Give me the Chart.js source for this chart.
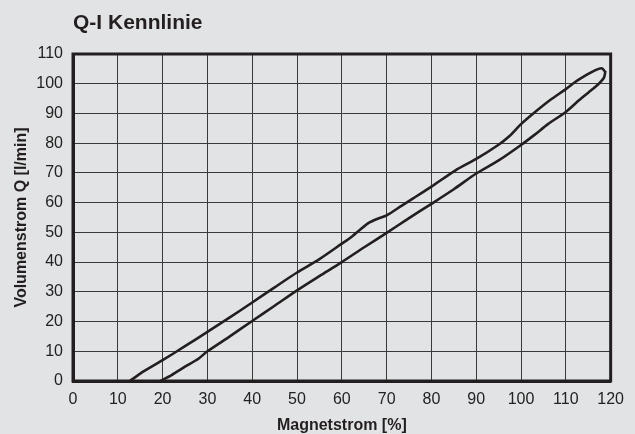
<!DOCTYPE html>
<html>
<head>
<meta charset="utf-8">
<script src="https://cdn.jsdelivr.net/npm/chart.js@4.4.0/dist/chart.umd.min.js"></script>
<style>
  html, body { margin: 0; padding: 0; background: #e2e3e4; }
  #wrap { width: 635px; height: 434px; }
</style>
</head>
<body>
<div id="wrap"><canvas id="kennlinie"></canvas></div>
<script>
// Kennlinie: steigender Strom (unterer Ast)
var stromAuf = [19.5, 22, 25, 28, 30, 35, 40, 45, 50, 55, 60, 65, 70, 75, 80, 85, 90, 95, 100, 103, 106, 110, 113, 115, 117, 118.5, 118.8];
var qAuf     = [0, 2, 4.8, 7.5, 10, 15, 20.2, 25.3, 30.5, 35.3, 40, 45, 49.8, 54.8, 59.6, 64.5, 69.8, 74.2, 79.4, 82.8, 86.4, 90.5, 94.5, 97, 99.5, 102, 104];
// fallender Strom (oberer Ast)
var stromAb = [118.8, 118, 116.5, 114.9, 112, 110, 106.5, 103, 100, 97.5, 94.9, 90, 85.3, 80, 76, 73.4, 70, 68, 66, 64, 62, 60, 55, 50, 45, 40, 35, 30, 25, 20, 15, 12.7];
var qAb     = [104, 105.2, 104.5, 103.2, 100.5, 98.2, 94.5, 90.3, 86.4, 82.5, 79.4, 74.7, 70.8, 65.4, 61.5, 59, 55.7, 54.6, 53.2, 50.8, 48.3, 46.2, 41, 36.5, 31.5, 26.4, 21.4, 16.5, 11.7, 7, 2.5, 0];

var xTicks = [0, 10, 20, 30, 40, 50, 60, 70, 80, 90, 100, 110, 120];
var yTicks = [0, 10, 20, 30, 40, 50, 60, 70, 80, 90, 100, 110];

function punkte(xs, ys){
    var liste = []
    for (var i = 0; i < xs.length; i++){
        liste.push({x: xs[i], y: ys[i]})
    }
    return liste
}

var schrift = '"Liberation Sans", Arial, Helvetica, sans-serif';
var linie = '#231f20';

// Rahmen rund um den Plotbereich
const rahmen = {
    id: 'rahmen',
    afterDatasetsDraw(chart){
        var a = chart.chartArea;
        var ctx = chart.ctx;
        ctx.save();
        ctx.strokeStyle = linie;
        ctx.lineWidth = 3;
        ctx.strokeRect(a.left, a.top, a.right - a.left, a.bottom - a.top);
        ctx.restore();
    }
};

const config = {
    type: 'scatter',
    data: {
        datasets: [
            {
                data: punkte(stromAuf, qAuf).concat(punkte(stromAb, qAb)),
                showLine: true,
                borderColor: linie,
                borderWidth: 2.6,
                pointRadius: 0,
                tension: 0.25,
                fill: false
            }
        ]
    },
    options: {
        responsive: true,
        maintainAspectRatio: false,
        animation: false,
        layout: { padding: { left: 12, right: 22, top: 4, bottom: 0 } },
        plugins: {
            legend: { display: false },
            tooltip: { enabled: false },
            title: {
                display: true,
                text: 'Q-I Kennlinie',
                align: 'start',
                fullSize: false,
                color: linie,
                font: { family: schrift, size: 21, weight: 'bold', lineHeight: 1 },
                padding: { top: 9, bottom: 20 }
            }
        },
        scales: {
            x: {
                type: 'linear',
                min: 0,
                max: 120,
                afterBuildTicks: function(axis){ axis.ticks = xTicks.map(function(v){ return {value: v}; }); },
                afterFit: function(axis){ axis.height = 53; },
                grid: { color: '#3a3a3a', lineWidth: 1, drawTicks: false },
                border: { color: linie, width: 3 },
                ticks: { color: '#222', padding: 11, font: { family: schrift, size: 16, lineHeight: 1 } },
                title: {
                    display: true,
                    text: 'Magnetstrom [%]',
                    color: linie,
                    font: { family: schrift, size: 16, weight: 'bold', lineHeight: 1 },
                    padding: { top: 0, bottom: 0 }
                }
            },
            y: {
                min: 0,
                max: 110,
                afterBuildTicks: function(axis){ axis.ticks = yTicks.map(function(v){ return {value: v}; }); },
                afterFit: function(axis){ axis.width = 61; },
                grid: { color: '#3a3a3a', lineWidth: 1, drawTicks: false },
                border: { color: linie, width: 3 },
                ticks: { color: '#222', padding: 10, font: { family: schrift, size: 16, lineHeight: 1 } },
                title: {
                    display: true,
                    text: 'Volumenstrom Q [l/min]',
                    color: linie,
                    font: { family: schrift, size: 16, weight: 'bold', lineHeight: 1 },
                    padding: { top: 2, bottom: 6 }
                }
            }
        }
    },
    plugins: [rahmen]
};

window.onload = function(){
    var ctx = document.getElementById('kennlinie').getContext('2d');
    var kennlinie = new Chart(ctx, config);
};
</script>
</body>
</html>
